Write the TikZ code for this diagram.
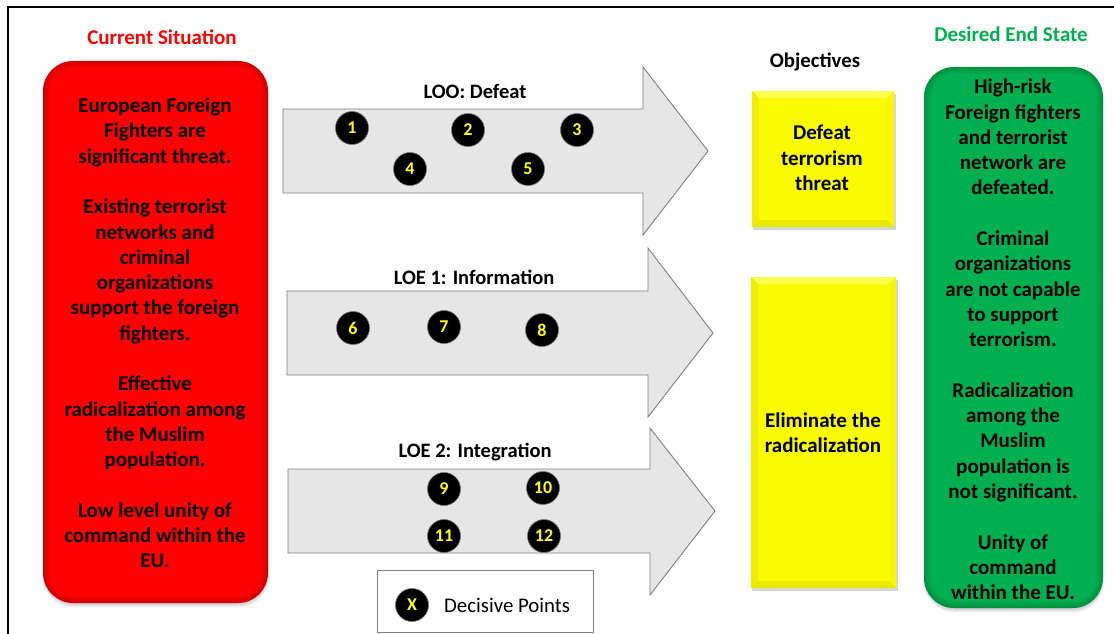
\documentclass[tikz,border=0pt]{standalone}
\usepackage{fontspec}
\setmainfont{Carlito}
\usetikzlibrary{calc}

\definecolor{panelred}{HTML}{FF0000}
\definecolor{panelgreen}{HTML}{00B050}
\definecolor{titlegreen}{HTML}{00B050}
\definecolor{objyellow}{HTML}{FBFB00}
\definecolor{objtop}{HTML}{FFFF50}
\definecolor{objleft}{HTML}{EDED00}
\definecolor{objright}{HTML}{F6F600}
\definecolor{objbottom}{HTML}{E8E800}
\definecolor{arrowfill}{HTML}{E6E6E6}
\definecolor{arrowline}{HTML}{7F7F7F}
\definecolor{dptext}{HTML}{FFFF00}

% rounded panel with soft darker rim and drop shadow: x1 y1 x2 y2 colour
\newcommand\softpanel[5]{%
  \foreach \s in {1,...,5}{%
    \fill[black,opacity=0.045,rounded corners=30pt]
      ({#1+2-\s*0.4},{#2+4}) rectangle ({#3-2+\s*0.6},{#4+\s*0.9});
  }%
  \foreach \k in {0,...,7}{%
    \pgfmathsetmacro\ins{\k*1.0}%
    \pgfmathsetmacro\rad{30-\k*1.0}%
    \pgfmathtruncatemacro\mix{82+\k*18/7}%
    \fill[#5!\mix!black,rounded corners=\rad pt]
      ({#1+\ins},{#2+\ins}) rectangle ({#3-\ins},{#4-\ins});
  }%
}

% bevelled objective box: x1 y1 x2 y2
\newcommand\bevelbox[4]{%
  \fill[black,opacity=0.16] ({#1+1},{#2+3}) rectangle ({#3+2},{#4+3});
  \fill[objyellow] (#1,#2) rectangle (#3,#4);
  \fill[objtop] (#1,#2) -- (#3,#2) -- ({#3-7},{#2+7}) -- ({#1+7},{#2+7}) -- cycle;
  \fill[objleft] (#1,#2) -- ({#1+7},{#2+7}) -- ({#1+7},{#4-7}) -- (#1,#4) -- cycle;
  \fill[objright] (#3,#2) -- ({#3-7},{#2+7}) -- ({#3-7},{#4-7}) -- (#3,#4) -- cycle;
  \fill[objbottom] (#1,#4) -- ({#1+7},{#4-7}) -- ({#3-7},{#4-7}) -- (#3,#4) -- cycle;
}

% block arrow: left x, body top y, body bottom y, head base x, head top y, head bottom y, tip x
\newcommand\blockarrow[7]{%
  \filldraw[fill=arrowfill,draw=arrowline,line width=0.9pt,line join=miter]
    (#1,#2) -- (#4,#2) -- (#4,#5) -- (#7,{(#2+#3)/2}) -- (#4,#6) -- (#4,#3) -- (#1,#3) -- cycle;
}

\tikzset{
  bodytext/.style={align=center,text=black,font=\bfseries\fontsize{21}{25.3}\selectfont,inner sep=0pt},
  heading/.style={font=\bfseries\fontsize{21}{24}\selectfont,inner sep=0pt},
  lanelabel/.style={font=\bfseries\fontsize{20.5}{22}\selectfont,inner sep=0pt},
  dp/.style={circle,fill=black,draw=black!55,line width=0.6pt,minimum size=33pt,inner sep=0pt,
    text=dptext,font=\bfseries\fontsize{18}{18}\selectfont},
}

\begin{document}
\begin{tikzpicture}[x=1pt,y=-1pt]
\useasboundingbox (0,0) rectangle (1114,634);
\fill[white] (0,0) rectangle (1114,634);
\draw[line width=2pt] (1114,7) -- (8,7) -- (8,634);

% ---- current situation ----
\node[heading,text=panelred] (cstitle) at (162,37) {Current Situation};
\softpanel{43}{61}{268}{603}{panelred}
\node[bodytext] (cs) at (155,333) {European Foreign\\Fighters are\\significant threat.\\[25.3pt]Existing terrorist\\networks and\\criminal\\organizations\\support the foreign\\fighters.\\[25.3pt]Effective\\radicalization among\\the Muslim\\population.\\[25.3pt]Low level unity of\\command within the\\EU.};

% ---- lines of operation / effort ----
\blockarrow{283}{109}{193}{643}{67}{235}{708}
\blockarrow{287}{291}{375}{648}{248}{417}{713}
\blockarrow{288}{469}{553}{650}{428}{595}{715}

\node[lanelabel] (loo) at (475,91) {LOO: Defeat};
\node[lanelabel] (loe1) at (474,277) {LOE 1: Information};
\node[lanelabel] (loe2) at (475,452) {LOE 2: Integration};

\node[dp] (d1) at (352,128) {1};
\node[dp] (d2) at (468,130) {2};
\node[dp] (d3) at (577,130) {3};
\node[dp] (d4) at (410,169) {4};
\node[dp] (d5) at (528,169) {5};
\node[dp] (d6) at (353,328) {6};
\node[dp] (d7) at (444,327) {7};
\node[dp] (d8) at (542,330) {8};
\node[dp] (d9) at (444,489) {9};
\node[dp] (d10) at (543,488) {10};
\node[dp] (d11) at (444,536) {11};
\node[dp] (d12) at (544,536) {12};

% ---- legend ----
\node[draw=arrowline,fill=white,line width=0.9pt,minimum width=216pt,minimum height=62pt,inner sep=0pt] (legend) at (485,601) {};
\node[dp] (dpx) at (412,605) {X};
\node[anchor=west,inner sep=0pt,font=\fontsize{20.8}{22}\selectfont] (legtext) at (444,605) {Decisive Points};

% ---- objectives ----
\node[heading,text=black,font=\bfseries\fontsize{20.8}{22}\selectfont] (objtitle) at (815,62) {Objectives};
\bevelbox{752}{91}{894}{227}
\node[bodytext] (obj1) at (822,158) {Defeat\\terrorism\\threat};
\bevelbox{751}{277}{896}{588}
\node[bodytext] (obj2) at (823,433) {Eliminate the\\radicalization};

% ---- desired end state ----
\node[heading,text=titlegreen] (destitle) at (1011,34) {Desired End State};
\softpanel{924}{67}{1103}{608}{panelgreen}
\node[bodytext] (des) at (1013,339.5) {High-risk\\Foreign fighters\\and terrorist\\network are\\defeated.\\[25.3pt]Criminal\\organizations\\are not capable\\to support\\terrorism.\\[25.3pt]Radicalization\\among the\\Muslim\\population is\\not significant.\\[25.3pt]Unity of\\command\\within the EU.};
\end{tikzpicture}
\end{document}
